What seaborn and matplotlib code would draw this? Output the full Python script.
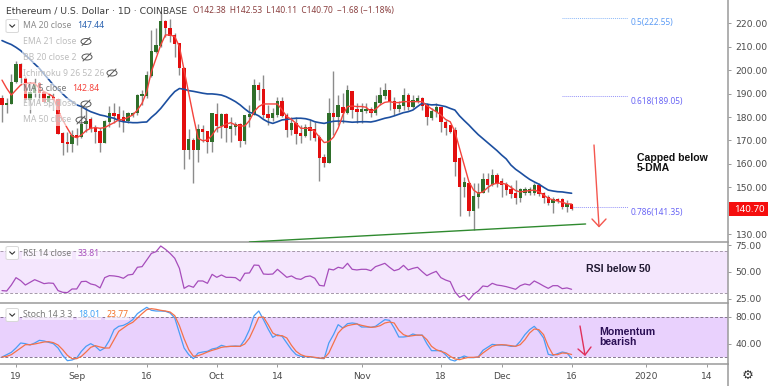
import numpy as np
import pandas as pd
import seaborn as sns
import matplotlib
matplotlib.use('Agg')
import matplotlib.pyplot as plt
from matplotlib.patches import Ellipse, FancyBboxPatch

W, H = 768, 386

dates = pd.date_range('2019-08-16', periods=123)

opens = [188.0,185.2,185.6,194.8,202.3,196.6,187.3,190.4,194.4,190.4,
         186.6,188.3,187.3,172.8,169.1,168.4,172.0,171.3,177.0,179.0,
         175.2,173.8,169.1,178.0,181.6,180.9,179.9,178.5,180.9,181.6,
         189.0,189.0,197.6,207.9,210.4,220.8,217.9,214.8,211.2,200.8,
         165.9,169.9,165.9,174.5,173.8,169.5,181.2,176.2,180.9,174.9,
         175.9,176.6,169.8,180.2,180.9,193.3,191.9,180.9,179.5,180.9,
         186.7,180.6,174.5,177.3,172.8,171.9,175.6,174.5,171.4,162.7,
         160.5,181.6,179.9,184.2,181.9,191.0,183.3,182.3,182.8,183.0,
         181.6,186.2,189.0,191.3,186.6,183.5,184.7,189.0,184.2,187.0,
         188.0,184.7,179.5,182.3,184.0,177.8,176.2,174.2,162.4,150.0,
         151.7,139.9,146.0,147.7,153.1,151.0,154.8,152.4,151.0,149.1,
         147.4,145.3,147.7,147.4,147.4,150.6,147.4,145.6,143.2,144.9,
         144.9,141.4,142.38]
highs = [189.4,188.0,198.4,203.9,203.0,197.6,195.1,196.6,195.1,190.9,
         190.2,190.2,188.0,173.8,173.8,174.5,175.2,184.5,184.5,180.2,
         176.6,175.2,178.7,184.7,185.9,184.7,183.0,182.3,182.3,189.7,
         191.6,199.7,217.2,217.9,224.3,221.5,221.8,215.8,211.8,201.5,
         174.8,170.9,177.0,176.6,174.2,181.3,185.9,181.6,181.6,179.9,
         178.0,177.3,180.5,185.2,196.1,195.1,198.0,185.2,183.7,188.7,
         188.7,181.6,180.2,180.2,176.6,177.0,178.8,178.0,172.4,164.1,
         188.0,199.7,189.4,190.2,193.7,191.3,185.9,185.9,186.2,184.5,
         189.4,193.0,194.7,191.6,188.4,187.0,192.3,190.2,189.4,189.4,
         188.4,185.9,183.7,185.9,184.5,178.8,176.6,175.9,163.1,154.5,
         152.0,151.7,151.7,156.0,156.3,157.7,156.0,153.8,152.4,151.0,
         153.1,149.6,150.3,150.3,152.0,152.0,148.1,146.7,146.0,145.5,
         145.3,144.6,142.53]
lows = [178.0,181.6,185.6,194.4,194.4,186.6,181.6,188.7,185.9,185.9,
        184.5,183.0,172.8,163.8,165.2,165.2,168.0,170.9,173.8,173.8,
        169.1,164.9,168.8,175.6,177.3,175.9,173.5,177.3,180.2,180.9,
        185.2,188.0,197.3,207.5,210.1,214.4,212.2,205.8,198.0,157.7,
        161.9,152.0,160.9,169.5,164.5,165.2,173.8,170.9,169.5,169.5,
        172.3,167.4,168.5,175.9,180.9,187.3,179.5,176.6,178.5,180.2,
        180.2,171.6,172.3,168.4,169.1,171.4,170.2,169.8,152.8,158.8,
        160.5,172.3,176.6,177.3,181.3,179.5,177.3,177.3,181.6,180.2,
        180.9,185.2,187.6,183.0,180.9,182.3,183.0,183.0,183.7,185.9,
        183.0,176.6,178.8,180.2,173.5,172.3,173.1,155.0,137.7,146.0,
        137.7,131.8,141.0,147.4,148.1,150.6,150.0,146.0,146.7,145.3,
        142.9,143.9,146.7,146.7,146.7,146.3,143.4,142.4,138.9,143.4,
        140.6,139.6,140.11]
closes = [185.2,185.9,194.8,202.5,196.6,187.3,190.4,194.4,190.4,186.6,
          188.7,187.3,172.8,168.8,168.4,171.9,170.9,177.0,178.0,174.8,
          173.8,169.1,178.0,181.6,180.6,178.8,178.5,181.3,181.6,189.0,
          189.4,197.6,207.9,210.4,220.8,218.2,214.8,211.2,200.8,165.9,
          170.2,165.9,174.5,173.8,169.5,181.3,176.2,180.9,175.2,175.9,
          177.0,169.8,180.5,180.9,193.3,191.6,180.9,179.8,181.3,186.7,
          180.6,174.5,177.3,172.8,171.9,175.6,174.2,171.2,162.4,160.5,
          181.6,180.2,184.7,181.9,191.3,183.0,182.3,183.3,183.3,181.6,
          186.3,189.0,191.3,186.6,183.5,185.0,189.0,184.2,187.0,188.0,
          184.7,179.9,182.3,184.0,177.8,175.5,173.8,160.9,150.0,152.0,
          139.9,146.0,147.7,153.1,151.0,154.8,151.4,151.0,148.8,147.1,
          145.3,148.8,148.8,148.8,150.6,147.1,145.3,143.2,144.9,144.3,
          141.4,142.4,140.70]

ma5 = [195.8,192.3,189.4,191.6,193.7,194.4,194.4,194.4,192.3,190.9,
       189.9,188.7,183.0,178.8,175.2,171.9,171.2,172.3,174.2,175.2,
       175.5,175.2,175.5,176.6,177.6,178.8,179.0,179.9,180.9,183.0,
       185.9,190.9,199.4,205.1,210.8,215.1,215.1,214.4,210.1,200.1,
       190.1,180.2,170.9,169.9,170.2,172.3,175.2,175.9,177.0,177.6,
       176.6,176.2,176.2,178.5,182.3,184.5,185.6,185.6,185.6,185.6,
       183.0,180.2,179.0,177.3,175.2,175.2,175.2,173.8,171.4,169.1,
       169.5,171.4,175.2,180.9,184.5,184.7,184.5,184.5,184.2,182.3,
       183.3,185.2,186.3,186.6,186.2,186.2,186.6,186.6,186.6,186.6,
       186.6,184.9,183.5,182.3,180.9,179.0,178.0,173.8,166.6,159.5,
       152.4,148.8,147.4,148.0,149.8,151.2,151.7,151.7,151.3,150.0,
       148.6,148.0,148.3,148.6,148.8,148.1,146.7,145.3,144.6,144.1,
       143.6,142.9,142.84]
ma20 = [212.7,211.8,211.0,209.8,208.4,206.5,204.7,202.7,200.8,198.4,
        196.1,193.7,191.9,189.9,188.0,186.6,185.2,184.5,183.3,182.3,
        181.6,180.9,180.5,179.9,179.5,178.5,178.0,177.8,177.6,177.6,
        177.8,177.9,179.9,181.6,183.7,186.2,188.7,190.9,192.2,191.9,
        191.3,191.0,190.6,190.2,189.9,189.9,189.7,189.4,188.7,187.7,
        186.6,185.2,183.5,182.0,181.5,180.5,179.0,177.9,177.3,178.0,
        178.8,179.0,179.3,179.5,179.5,179.3,178.8,178.0,177.6,177.3,
        177.8,178.2,178.3,178.2,178.0,177.8,177.9,178.0,178.0,177.9,
        178.3,178.9,179.5,179.9,180.5,181.2,181.9,182.3,183.0,184.5,
        185.9,185.5,185.2,185.3,184.9,184.5,183.7,183.0,180.5,178.5,
        176.6,174.5,172.5,170.8,169.1,167.4,165.7,163.8,162.1,159.5,
        157.7,156.3,154.8,153.4,152.3,151.3,150.0,148.8,148.4,148.1,
        148.0,147.7,147.44]
rsi = [32.6,32.2,37.8,44.7,41.9,37.8,40.3,42.8,41.0,39.1,
       39.7,39.4,32.6,31.0,30.7,34.1,34.1,41.0,41.3,38.8,
       37.8,35.1,44.7,46.6,46.3,45.6,44.1,47.2,47.8,54.4,
       55.0,61.2,67.4,69.0,74.3,71.2,67.4,62.8,53.4,34.7,
       37.2,35.7,41.6,41.6,39.4,47.8,45.0,47.2,45.0,45.0,
       44.7,41.6,48.8,49.1,56.5,56.2,48.1,47.8,48.1,52.5,
       48.8,45.0,46.3,43.8,43.1,45.6,46.3,44.1,37.5,36.9,
       52.8,51.9,54.4,53.4,58.1,52.5,51.9,52.5,52.5,51.2,
       55.0,56.5,58.1,54.4,51.2,52.5,56.2,51.9,53.4,54.4,
       50.3,46.6,48.8,50.6,44.7,42.5,41.0,31.6,26.3,28.5,
       23.8,29.1,32.2,36.9,36.3,39.4,37.8,37.2,36.3,35.1,
       33.8,37.2,38.8,37.8,41.6,39.4,36.9,34.7,37.2,37.2,
       34.4,35.1,33.81]
stoch_k = [20.0,23.5,27.0,33.5,41.0,40.0,38.0,41.0,45.0,44.0,
           42.0,40.0,33.5,22.5,14.5,15.5,18.5,28.5,36.0,40.0,
           36.0,29.5,33.5,45.0,61.0,66.0,67.5,71.0,76.0,85.0,
           90.0,94.5,90.0,89.0,89.0,88.5,86.0,78.5,56.0,33.5,
           23.5,17.5,26.0,27.5,28.5,32.0,33.5,37.5,35.5,36.0,
           36.5,36.0,46.0,61.0,82.0,89.0,76.0,62.0,49.5,53.5,
           51.0,41.0,31.0,23.5,21.0,20.5,20.0,19.0,18.0,17.5,
           41.0,53.5,68.5,63.5,70.0,71.0,70.0,65.0,65.0,64.5,
           66.0,71.0,76.0,75.0,63.5,50.0,50.0,51.0,54.5,52.5,
           53.0,40.0,29.5,29.5,29.5,23.5,16.0,14.0,18.5,21.5,
           19.0,19.0,20.0,30.0,34.5,39.0,38.0,38.0,37.5,36.0,
           36.0,43.5,53.5,61.0,66.0,58.5,48.5,24.0,22.5,25.0,
           27.5,26.0,18.01]
stoch_d = [20.0,21.0,23.5,28.5,33.5,38.5,38.5,39.5,41.0,42.5,
           43.0,41.5,38.0,31.0,22.5,17.5,17.5,21.0,27.5,34.5,
           37.0,35.0,33.5,33.5,46.0,58.5,63.5,68.5,72.0,78.5,
           85.0,91.0,92.5,91.5,90.0,89.0,87.5,82.0,67.0,47.5,
           31.0,21.0,22.0,24.5,27.5,30.0,32.0,34.5,35.5,36.0,
           36.0,36.0,39.5,48.5,63.5,79.5,80.0,68.5,56.0,52.0,
           52.0,48.5,37.5,28.5,23.5,21.0,20.5,19.5,18.5,18.0,
           26.0,41.0,56.0,63.5,67.0,68.5,69.5,67.5,66.0,64.5,
           65.0,67.0,71.0,72.5,71.0,60.0,53.5,51.0,52.0,53.0,
           52.5,46.0,36.0,31.0,28.5,26.0,21.0,17.0,16.0,18.0,
           19.5,19.5,20.0,26.0,31.0,36.0,38.0,38.5,38.0,37.0,
           36.0,38.5,46.0,56.0,62.0,61.0,53.5,36.0,23.5,23.5,
           26.0,25.5,23.77]

price_ticks = [130, 150, 160, 170, 180, 190, 200, 210, 220]
rsi_ticks = [25, 50, 75]
stoch_ticks = [40, 80]
time_ticks = ['2019-08-19', '2019-09-01', '2019-09-16', '2019-10-01', '2019-10-14', '2019-11-01',
              '2019-11-18', '2019-12-01', '2019-12-16', '2020-01-01', '2020-01-14']
time_labels = ['19', 'Sep', '16', 'Oct', '14', 'Nov', '18', 'Dec', '16', '2020', '14']
fib_labels = ['0.5(222.55)', '0.618(189.05)', '0.786(141.35)']
fib_values = [222.55, 189.05, 141.35]
trend_dates = ['2019-10-08', '2019-12-19']
trend_values = [126.6, 134.3]

sns.set_theme(style='white')
plt.rcParams['font.family'] = ['DejaVu Sans']
GRAY = '#9a9a9a'
TXT = '#4a4a4a'
SMALL = 'Noto Sans'


def fx(x):
    return x / W


def fy(y):
    return 1 - y / H


def pane(top, bottom):
    return plt.gcf().add_axes([0, fy(bottom), 728 / W, (bottom - top) / H])


fig = plt.figure(figsize=(W / 100, H / 100), dpi=100)
ax = pane(0, 242)
ax_rsi = pane(243, 303)
ax_st = pane(304, 364)

up = np.array(closes) >= np.array(opens)
colors = np.where(up, '#2f6f2a', '#e30e0e')
ax.vlines(dates, lows, highs, color='#8c8c8c', lw=1, zorder=2)
ax.bar(dates, np.abs(np.array(closes) - np.array(opens)) + 0.25, bottom=np.minimum(opens, closes),
       width=0.72, color=colors, linewidth=0, zorder=3)

sns.lineplot(x=dates, y=ma20, ax=ax, color='#1c4fa0', lw=1.2, errorbar=None, zorder=4)
sns.lineplot(x=dates, y=ma5, ax=ax, color='#f4433c', lw=1.0, errorbar=None, zorder=5)

# trend line
sns.lineplot(x=pd.to_datetime(trend_dates), y=trend_values, ax=ax, color='#2f8a2f', lw=1.0, zorder=4)

# fib levels
fib_start = ['2019-12-14', '2019-12-14', '2019-12-16']
fib_colors = ['#5d9cf5', '#6a66f5', '#6a66f5']
fib_end = pd.Timestamp('2019-12-28')
for lab, val, st, c in zip(fib_labels, fib_values, fib_start, fib_colors):
    ax.hlines(val, pd.Timestamp(st), fib_end, color=c, lw=0.7, ls=(0, (1, 1)), alpha=0.7)
    ax.text(fib_end + pd.Timedelta(days=0.6), val - 0.4, lab, color=c, fontsize=6, family=SMALL, va='top', ha='left')

ax.set_ylim(126.6, 230.04)
ax_rsi.set_ylim(21.0, 77.1)
ax_st.set_ylim(9.5, 99.5)

# rsi pane
ax_rsi.axhspan(30, 70, color='#f4e6fd', lw=0, zorder=0)
ax_rsi.axhline(70, color='#a598aa', lw=0.7, ls=(0, (3, 2)))
ax_rsi.axhline(30, color='#a598aa', lw=0.7, ls=(0, (3, 2)))
sns.lineplot(x=dates, y=rsi, ax=ax_rsi, color='#a64dbb', lw=0.9, errorbar=None)

# stoch pane
ax_st.axhspan(20, 80, color='#e9d1fd', lw=0, zorder=0)
ax_st.axhline(80, color='#85768f', lw=0.7, ls=(0, (3, 2)))
ax_st.axhline(20, color='#85768f', lw=0.7, ls=(0, (3, 2)))
sns.lineplot(x=dates, y=stoch_k, ax=ax_st, color='#4a9df5', lw=0.9, errorbar=None)
sns.lineplot(x=dates, y=stoch_d, ax=ax_st, color='#f4724a', lw=0.9, errorbar=None)

left = pd.Timestamp('2019-08-19') - pd.Timedelta(days=3.43)
right = pd.Timestamp('2019-08-19') + pd.Timedelta(days=152.5)
for a, ticks in zip([ax, ax_rsi, ax_st], [price_ticks, rsi_ticks, stoch_ticks]):
    a.set_xlim(left, right)
    a.set_ylabel('')
    a.set_xlabel('')
    a.yaxis.tick_right()
    a.set_yticks(ticks)
    a.set_yticklabels([f'{t:.2f}' for t in ticks])
    a.tick_params(axis='y', direction='out', length=2.5, width=0.7, color=GRAY, labelsize=6.6,
                  labelcolor=TXT, pad=3, right=True)
    a.patch.set_alpha(0)
    for s in ['top', 'left']:
        a.spines[s].set_visible(False)
    for s in ['right', 'bottom']:
        a.spines[s].set_visible(True)
        a.spines[s].set_color(GRAY)
        a.spines[s].set_linewidth(1.1)

ax.set_xticks([])
ax_rsi.set_xticks([])
ax_st.set_xticks(pd.to_datetime(time_ticks))
ax_st.set_xticklabels(time_labels)
ax_st.tick_params(axis='x', direction='out', length=2.5, width=0.7, color=GRAY, labelsize=6.6,
                  labelcolor=TXT, pad=3, bottom=True)

# axis stub down to the bottom of the picture
fig.add_artist(plt.Line2D([fx(728), fx(728)], [fy(364), fy(386)], color=GRAY, lw=1.1))

# last price tag
fig.patches.append(plt.Rectangle((fx(728.5), fy(216)), 40 / W, 14 / H, transform=fig.transFigure,
                                 color='#f50e0e', lw=0))
fig.text(fx(749), fy(209), '140.70', color='white', fontsize=7, family=SMALL, fontweight='bold',
         ha='center', va='center')

# header
fig.text(fx(6), fy(10.5), 'Ethereum / U.S. Dollar · 1D · COINBASE', color='#3c3c3c', fontsize=6.7, va='center')
fig.text(fx(193), fy(10.5), 'O142.38  H142.53  L140.11  C140.70  −1.68 (−1.18%)', color='#8a3f3f',
         fontsize=6, family=SMALL, va='center')


def legend_line(y, parts, icon_x=None):
    x = 23
    for txt, col in parts:
        t = fig.text(fx(x), fy(y), txt, color=col, fontsize=6.2, family=SMALL, va='center', zorder=8,
                     bbox=dict(fc='white', ec='none', alpha=0.6, pad=0.8))
        fig.canvas.draw()
        x = t.get_window_extent().x1 + 6
    if icon_x is not None:
        fig.add_artist(Ellipse((fx(icon_x), fy(y)), 10 / W, 6 / H, fc='none', ec='#555555', lw=0.7, zorder=9))
        fig.add_artist(plt.Line2D([fx(icon_x - 4), fx(icon_x + 4)], [fy(y + 4), fy(y - 4)], color='#555555',
                                  lw=0.7, zorder=9))


def drop_button(y):
    fig.add_artist(FancyBboxPatch((fx(6), fy(y + 6.5)), 12.5 / W, 13 / H, transform=fig.transFigure,
                                  boxstyle='round,pad=0,rounding_size=0.003', fc='white', ec='#d8d8d8', lw=0.7, zorder=9))
    fig.add_artist(plt.Line2D([fx(9.7), fx(12.2), fx(14.7)], [fy(y - 1.2), fy(y + 1.2), fy(y - 1.2)], color='#333333',
                              lw=0.8, zorder=10))


drop_button(26)
drop_button(253)
drop_button(315)
legend_line(26, [('MA 20 close', '#8a8a8a'), ('147.44', '#2a62b0')])
legend_line(41.5, [('EMA 21 close', '#bdbdbd')], 86)
legend_line(57, [('BB 20 close 2', '#bdbdbd')], 87)
legend_line(73, [('Ichimoku 9 26 52 26', '#bdbdbd')], 112)
legend_line(88.5, [('MA 5 close', '#777777'), ('142.84', '#f4433c')])
legend_line(104, [('EMA 55 close', '#bdbdbd')], 86)
legend_line(120, [('MA 50 close', '#bdbdbd')], 81)
legend_line(253, [('RSI 14 close', '#777777'), ('33.81', '#a64dbb')])
legend_line(314.5, [('Stoch 14 3 3', '#777777'), ('18.01', '#3ea0f5'), ('23.77', '#f4722a')])

# annotations
fig.text(fx(637), fy(163), 'Capped below\n5-DMA', family='Liberation Sans', fontweight='bold', fontsize=7.6,
         color='#111111', va='center', linespacing=1.0)
fig.text(fx(586), fy(268.5), 'RSI below 50', family='Liberation Sans', fontweight='bold', fontsize=7.6,
         color='#221a33', va='center')
fig.text(fx(599), fy(337), 'Momentum\nbearish', family='Liberation Sans', fontweight='bold', fontsize=7.6,
         color='#2b0f55', va='center', linespacing=1.0)


def arrow(x0, y0, x1, y1, wings, col, lw):
    fig.add_artist(plt.Line2D([fx(x0), fx(x1)], [fy(y0), fy(y1)], color=col, lw=lw, zorder=7))
    fig.add_artist(plt.Line2D([fx(wings[0]), fx(x1), fx(wings[2])], [fy(wings[1]), fy(y1), fy(wings[3])],
                              color=col, lw=lw, zorder=7))


arrow(594, 145, 599, 226.5, (592, 219, 606, 219), '#f4574f', 1.0)
arrow(580, 326, 585, 355, (578, 349, 591, 347), '#e0305a', 1.0)

# settings gear
fig.text(fx(748), fy(375), '⚙', fontsize=9.5, color='#333333', ha='center', va='center')

fig.savefig('out.png', dpi=100)
